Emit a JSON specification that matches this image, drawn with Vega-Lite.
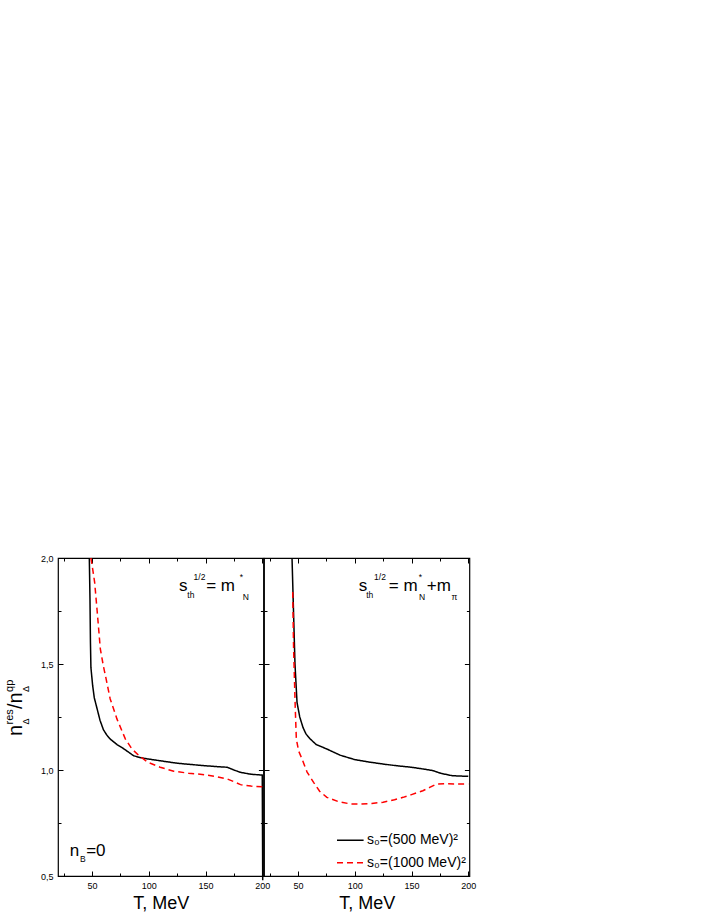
{
  "$schema": "https://vega.github.io/schema/vega-lite/v6.json",
  "padding": {"left": 3, "top": 553, "right": 0, "bottom": 0},
  "bounds": "flush",
  "spacing": 0,
  "config": {
    "view": {"stroke": "#000", "strokeWidth": 1.2},
    "font": "Liberation Sans",
    "axis": {"domain": false, "grid": false, "tickColor": "#000", "tickWidth": 1, "labelFont": "Liberation Sans", "labelFontSize": 9, "labelColor": "#000", "titleFont": "Liberation Sans", "titleFontWeight": "normal", "titleColor": "#000", "labelFlush": false, "labelOverlap": false, "labelBound": false}
  },
  "datasets": {
    "curves": [
      {"panel":"L","series":"s₀=(500 MeV)²","T":47.6,"v":2.0},
      {"panel":"L","series":"s₀=(500 MeV)²","T":48.2,"v":1.8},
      {"panel":"L","series":"s₀=(500 MeV)²","T":48.6,"v":1.6},
      {"panel":"L","series":"s₀=(500 MeV)²","T":49.0,"v":1.484},
      {"panel":"L","series":"s₀=(500 MeV)²","T":50.5,"v":1.40},
      {"panel":"L","series":"s₀=(500 MeV)²","T":52.0,"v":1.34},
      {"panel":"L","series":"s₀=(500 MeV)²","T":54.4,"v":1.29},
      {"panel":"L","series":"s₀=(500 MeV)²","T":57.0,"v":1.235},
      {"panel":"L","series":"s₀=(500 MeV)²","T":60.0,"v":1.19},
      {"panel":"L","series":"s₀=(500 MeV)²","T":63.0,"v":1.165},
      {"panel":"L","series":"s₀=(500 MeV)²","T":66.0,"v":1.146},
      {"panel":"L","series":"s₀=(500 MeV)²","T":72.0,"v":1.12},
      {"panel":"L","series":"s₀=(500 MeV)²","T":78.0,"v":1.10},
      {"panel":"L","series":"s₀=(500 MeV)²","T":86.7,"v":1.067},
      {"panel":"L","series":"s₀=(500 MeV)²","T":93.0,"v":1.058},
      {"panel":"L","series":"s₀=(500 MeV)²","T":99.4,"v":1.052},
      {"panel":"L","series":"s₀=(500 MeV)²","T":112.0,"v":1.042},
      {"panel":"L","series":"s₀=(500 MeV)²","T":125.0,"v":1.032},
      {"panel":"L","series":"s₀=(500 MeV)²","T":137.0,"v":1.026},
      {"panel":"L","series":"s₀=(500 MeV)²","T":150.0,"v":1.02},
      {"panel":"L","series":"s₀=(500 MeV)²","T":160.0,"v":1.016},
      {"panel":"L","series":"s₀=(500 MeV)²","T":169.0,"v":1.013},
      {"panel":"L","series":"s₀=(500 MeV)²","T":175.0,"v":1.0},
      {"panel":"L","series":"s₀=(500 MeV)²","T":180.8,"v":0.989},
      {"panel":"L","series":"s₀=(500 MeV)²","T":190.0,"v":0.98},
      {"panel":"L","series":"s₀=(500 MeV)²","T":200.0,"v":0.976},
      {"panel":"L","series":"s₀=(500 MeV)²","T":200.4,"v":0.48},
      {"panel":"L","series":"s₀=(1000 MeV)²","T":49.0,"v":2.0},
      {"panel":"L","series":"s₀=(1000 MeV)²","T":50.5,"v":1.95},
      {"panel":"L","series":"s₀=(1000 MeV)²","T":52.3,"v":1.885},
      {"panel":"L","series":"s₀=(1000 MeV)²","T":54.5,"v":1.75},
      {"panel":"L","series":"s₀=(1000 MeV)²","T":57.3,"v":1.571},
      {"panel":"L","series":"s₀=(1000 MeV)²","T":60.0,"v":1.49},
      {"panel":"L","series":"s₀=(1000 MeV)²","T":62.0,"v":1.44},
      {"panel":"L","series":"s₀=(1000 MeV)²","T":66.0,"v":1.335},
      {"panel":"L","series":"s₀=(1000 MeV)²","T":72.0,"v":1.24},
      {"panel":"L","series":"s₀=(1000 MeV)²","T":79.4,"v":1.146},
      {"panel":"L","series":"s₀=(1000 MeV)²","T":85.0,"v":1.10},
      {"panel":"L","series":"s₀=(1000 MeV)²","T":92.0,"v":1.065},
      {"panel":"L","series":"s₀=(1000 MeV)²","T":99.4,"v":1.036},
      {"panel":"L","series":"s₀=(1000 MeV)²","T":110.0,"v":1.013},
      {"panel":"L","series":"s₀=(1000 MeV)²","T":122.0,"v":0.994},
      {"panel":"L","series":"s₀=(1000 MeV)²","T":135.0,"v":0.985},
      {"panel":"L","series":"s₀=(1000 MeV)²","T":149.0,"v":0.978},
      {"panel":"L","series":"s₀=(1000 MeV)²","T":160.0,"v":0.968},
      {"panel":"L","series":"s₀=(1000 MeV)²","T":169.0,"v":0.958},
      {"panel":"L","series":"s₀=(1000 MeV)²","T":175.0,"v":0.945},
      {"panel":"L","series":"s₀=(1000 MeV)²","T":180.8,"v":0.931},
      {"panel":"L","series":"s₀=(1000 MeV)²","T":190.0,"v":0.924},
      {"panel":"L","series":"s₀=(1000 MeV)²","T":200.0,"v":0.921},
      {"panel":"R","series":"s₀=(500 MeV)²","T":44.7,"v":2.0},
      {"panel":"R","series":"s₀=(500 MeV)²","T":46.0,"v":1.75},
      {"panel":"R","series":"s₀=(500 MeV)²","T":47.3,"v":1.5},
      {"panel":"R","series":"s₀=(500 MeV)²","T":49.1,"v":1.319},
      {"panel":"R","series":"s₀=(500 MeV)²","T":51.5,"v":1.25},
      {"panel":"R","series":"s₀=(500 MeV)²","T":54.4,"v":1.20},
      {"panel":"R","series":"s₀=(500 MeV)²","T":57.0,"v":1.17},
      {"panel":"R","series":"s₀=(500 MeV)²","T":60.8,"v":1.146},
      {"panel":"R","series":"s₀=(500 MeV)²","T":66.0,"v":1.12},
      {"panel":"R","series":"s₀=(500 MeV)²","T":75.4,"v":1.099},
      {"panel":"R","series":"s₀=(500 MeV)²","T":87.0,"v":1.07},
      {"panel":"R","series":"s₀=(500 MeV)²","T":100.0,"v":1.049},
      {"panel":"R","series":"s₀=(500 MeV)²","T":112.0,"v":1.038},
      {"panel":"R","series":"s₀=(500 MeV)²","T":125.0,"v":1.028},
      {"panel":"R","series":"s₀=(500 MeV)²","T":137.0,"v":1.02},
      {"panel":"R","series":"s₀=(500 MeV)²","T":150.0,"v":1.013},
      {"panel":"R","series":"s₀=(500 MeV)²","T":160.0,"v":1.005},
      {"panel":"R","series":"s₀=(500 MeV)²","T":169.0,"v":0.997},
      {"panel":"R","series":"s₀=(500 MeV)²","T":176.0,"v":0.984},
      {"panel":"R","series":"s₀=(500 MeV)²","T":186.0,"v":0.973},
      {"panel":"R","series":"s₀=(500 MeV)²","T":200.0,"v":0.97},
      {"panel":"R","series":"s₀=(1000 MeV)²","T":45.3,"v":1.84},
      {"panel":"R","series":"s₀=(1000 MeV)²","T":46.1,"v":1.571},
      {"panel":"R","series":"s₀=(1000 MeV)²","T":47.5,"v":1.3},
      {"panel":"R","series":"s₀=(1000 MeV)²","T":48.5,"v":1.146},
      {"panel":"R","series":"s₀=(1000 MeV)²","T":50.5,"v":1.09},
      {"panel":"R","series":"s₀=(1000 MeV)²","T":53.5,"v":1.052},
      {"panel":"R","series":"s₀=(1000 MeV)²","T":58.0,"v":0.99},
      {"panel":"R","series":"s₀=(1000 MeV)²","T":63.7,"v":0.942},
      {"panel":"R","series":"s₀=(1000 MeV)²","T":69.0,"v":0.9},
      {"panel":"R","series":"s₀=(1000 MeV)²","T":75.4,"v":0.871},
      {"panel":"R","series":"s₀=(1000 MeV)²","T":85.0,"v":0.852},
      {"panel":"R","series":"s₀=(1000 MeV)²","T":95.9,"v":0.84},
      {"panel":"R","series":"s₀=(1000 MeV)²","T":104.6,"v":0.839},
      {"panel":"R","series":"s₀=(1000 MeV)²","T":115.0,"v":0.842},
      {"panel":"R","series":"s₀=(1000 MeV)²","T":125.0,"v":0.848},
      {"panel":"R","series":"s₀=(1000 MeV)²","T":135.0,"v":0.86},
      {"panel":"R","series":"s₀=(1000 MeV)²","T":142.6,"v":0.871},
      {"panel":"R","series":"s₀=(1000 MeV)²","T":150.0,"v":0.884},
      {"panel":"R","series":"s₀=(1000 MeV)²","T":160.0,"v":0.902},
      {"panel":"R","series":"s₀=(1000 MeV)²","T":166.0,"v":0.918},
      {"panel":"R","series":"s₀=(1000 MeV)²","T":172.0,"v":0.934},
      {"panel":"R","series":"s₀=(1000 MeV)²","T":180.0,"v":0.935},
      {"panel":"R","series":"s₀=(1000 MeV)²","T":190.0,"v":0.934},
      {"panel":"R","series":"s₀=(1000 MeV)²","T":200.0,"v":0.934}
    ],
    "annMain": [
      {"panel":"L","T":126.6,"v":1.846,"text":"s"},
      {"panel":"L","T":150.6,"v":1.846,"text":"= m"},
      {"panel":"L","T":30.3,"v":0.596,"text":"n"},
      {"panel":"L","T":44.8,"v":0.596,"text":"=0"},
      {"panel":"R","T":103.4,"v":1.846,"text":"s"},
      {"panel":"R","T":130.0,"v":1.846,"text":"= m"},
      {"panel":"R","T":163.5,"v":1.846,"text":"+m"}
    ],
    "annScript": [
      {"panel":"L","T":134.0,"v":1.811,"text":"th"},
      {"panel":"L","T":139.5,"v":1.898,"text":"1/2"},
      {"panel":"L","T":180.2,"v":1.898,"text":"*"},
      {"panel":"L","T":182.8,"v":1.802,"text":"N"},
      {"panel":"L","T":39.4,"v":0.565,"text":"B"},
      {"panel":"R","T":110.1,"v":1.811,"text":"th"},
      {"panel":"R","T":117.0,"v":1.898,"text":"1/2"},
      {"panel":"R","T":156.3,"v":1.898,"text":"*"},
      {"panel":"R","T":156.6,"v":1.802,"text":"N"},
      {"panel":"R","T":185.3,"v":1.802,"text":"π"}
    ],
    "titleMain": [
      {"T":-12.0,"v":1.160,"text":"n"},
      {"T":-12.0,"v":1.288,"text":"/"},
      {"T":-12.0,"v":1.314,"text":"n"}
    ],
    "titleScript": [
      {"T":-19.9,"v":1.215,"text":"res"},
      {"T":-19.9,"v":1.368,"text":"qp"}
    ],
    "titleDelta": [
      {"T":-5.8,"v":1.215,"text":"Δ"},
      {"T":-5.8,"v":1.368,"text":"Δ"}
    ]
  },
  "resolve": {"legend": {"color": "independent", "strokeDash": "independent"}},
  "hconcat": [
    {
      "width": 205.4,
      "height": 318,
      "resolve": {"axis": {"x": "independent", "y": "independent"}},
      "layer": [
        {
          "data": {"name": "curves"},
          "transform": [{"filter": "datum.panel === 'L'"}],
          "mark": {"type": "line", "strokeWidth": 1.5},
          "encoding": {
            "x": {"field": "T", "type": "quantitative", "scale": {"domain": [20, 201], "nice": false, "zero": false},
                  "axis": {"orient": "bottom", "values": [50, 100, 150, 200], "offset": -5, "tickSize": 5, "labelPadding": 5.5, "title": "T, MeV", "titleFontSize": 18, "titlePadding": 4, "format": "d"}},
            "y": {"field": "v", "type": "quantitative", "scale": {"domain": [0.5, 2.0], "nice": false, "zero": false},
                  "axis": {"orient": "left", "values": [0.5, 1.0, 1.5, 2.0], "offset": -5, "tickSize": 5, "labelPadding": 5, "title": null, "labelExpr": "replace(format(datum.value, '.1f'), '.', ',')"}},
            "color": {"field": "series", "type": "nominal", "scale": {"domain": ["s₀=(500 MeV)²", "s₀=(1000 MeV)²"], "range": ["#000000", "#ff0000"]}, "legend": null},
            "strokeDash": {"field": "series", "type": "nominal", "scale": {"domain": ["s₀=(500 MeV)²", "s₀=(1000 MeV)²"], "range": [[1, 0], [6, 4]]}, "legend": null}
          }
        },
        {
          "data": {"name": "annMain"},
          "transform": [{"filter": "datum.panel === 'L'"}],
          "mark": {"type": "text", "fontSize": 17, "font": "Liberation Sans", "align": "left", "baseline": "alphabetic", "color": "#000"},
          "encoding": {
            "x": {"field": "T", "type": "quantitative", "scale": {"domain": [20, 201], "nice": false, "zero": false},
                  "axis": {"orient": "bottom", "values": [25, 75, 125, 175], "offset": -3, "tickSize": 3, "labels": false, "title": null}},
            "y": {"field": "v", "type": "quantitative", "scale": {"domain": [0.5, 2.0], "nice": false, "zero": false},
                  "axis": {"orient": "left", "values": [0.75, 1.25, 1.75], "offset": -3, "tickSize": 3, "labels": false, "title": null}},
            "text": {"field": "text"}
          }
        },
        {
          "data": {"name": "annScript"},
          "transform": [{"filter": "datum.panel === 'L'"}],
          "mark": {"type": "text", "fontSize": 8.5, "font": "Liberation Sans", "align": "left", "baseline": "alphabetic", "color": "#000"},
          "encoding": {
            "x": {"field": "T", "type": "quantitative", "scale": {"domain": [20, 201], "nice": false, "zero": false},
                  "axis": {"orient": "top", "values": [50, 100, 150, 200], "offset": -5, "tickSize": 5, "labels": false, "title": null}},
            "y": {"field": "v", "type": "quantitative", "scale": {"domain": [0.5, 2.0], "nice": false, "zero": false},
                  "axis": {"orient": "right", "values": [0.5, 1.0, 1.5, 2.0], "offset": -5, "tickSize": 5, "labels": false, "title": null}},
            "text": {"field": "text"}
          }
        },
        {
          "data": {"name": "titleMain"},
          "mark": {"type": "text", "fontSize": 20, "font": "Liberation Sans", "align": "left", "baseline": "alphabetic", "angle": 270, "color": "#000"},
          "encoding": {
            "x": {"field": "T", "type": "quantitative", "scale": {"domain": [20, 201], "nice": false, "zero": false},
                  "axis": {"orient": "top", "values": [25, 75, 125, 175], "offset": -3, "tickSize": 3, "labels": false, "title": null}},
            "y": {"field": "v", "type": "quantitative", "scale": {"domain": [0.5, 2.0], "nice": false, "zero": false},
                  "axis": {"orient": "right", "values": [0.75, 1.25, 1.75], "offset": -3, "tickSize": 3, "labels": false, "title": null}},
            "text": {"field": "text"}
          }
        },
        {
          "data": {"name": "titleScript"},
          "mark": {"type": "text", "fontSize": 11, "font": "Liberation Sans", "align": "left", "baseline": "alphabetic", "angle": 270, "color": "#000"},
          "encoding": {
            "x": {"field": "T", "type": "quantitative", "scale": {"domain": [20, 201], "nice": false, "zero": false}, "axis": null},
            "y": {"field": "v", "type": "quantitative", "scale": {"domain": [0.5, 2.0], "nice": false, "zero": false}, "axis": null},
            "text": {"field": "text"}
          }
        },
        {
          "data": {"name": "titleDelta"},
          "mark": {"type": "text", "fontSize": 9, "font": "Liberation Sans", "align": "left", "baseline": "alphabetic", "angle": 270, "color": "#000"},
          "encoding": {
            "x": {"field": "T", "type": "quantitative", "scale": {"domain": [20, 201], "nice": false, "zero": false}, "axis": null},
            "y": {"field": "v", "type": "quantitative", "scale": {"domain": [0.5, 2.0], "nice": false, "zero": false}, "axis": null},
            "text": {"field": "text"}
          }
        }
      ]
    },
    {
      "width": 205.4,
      "height": 318,
      "resolve": {"axis": {"x": "independent", "y": "independent"}},
      "layer": [
        {
          "data": {"name": "curves"},
          "transform": [{"filter": "datum.panel === 'R'"}],
          "mark": {"type": "line", "strokeWidth": 1.5},
          "encoding": {
            "x": {"field": "T", "type": "quantitative", "scale": {"domain": [20, 201], "nice": false, "zero": false},
                  "axis": {"orient": "bottom", "values": [50, 100, 150, 200], "offset": -5, "tickSize": 5, "labelPadding": 5.5, "title": "T, MeV", "titleFontSize": 18, "titlePadding": 4, "format": "d"}},
            "y": {"field": "v", "type": "quantitative", "scale": {"domain": [0.5, 2.0], "nice": false, "zero": false},
                  "axis": {"orient": "left", "values": [0.5, 1.0, 1.5, 2.0], "offset": -5, "tickSize": 5, "labels": false, "title": null}},
            "color": {"field": "series", "type": "nominal", "scale": {"domain": ["s₀=(500 MeV)²", "s₀=(1000 MeV)²"], "range": ["#000000", "#ff0000"]},
                      "legend": {"orient": "none", "legendX": 79.3, "legendY": 275.3, "padding": 0, "title": null, "symbolType": "M-2.66,0H2.66", "symbolSize": 100, "symbolStrokeWidth": 1.5, "labelFont": "Liberation Sans", "labelFontSize": 14, "labelColor": "#000", "labelOffset": 9.7, "rowPadding": 8.4}},
            "strokeDash": {"field": "series", "type": "nominal", "scale": {"domain": ["s₀=(500 MeV)²", "s₀=(1000 MeV)²"], "range": [[1, 0], [6, 4]]},
                      "legend": {"orient": "none", "legendX": 79.3, "legendY": 275.3, "padding": 0, "title": null, "symbolType": "M-2.66,0H2.66", "symbolSize": 100, "symbolStrokeWidth": 1.5, "labelFont": "Liberation Sans", "labelFontSize": 14, "labelColor": "#000", "labelOffset": 9.7, "rowPadding": 8.4}}
          }
        },
        {
          "data": {"name": "annMain"},
          "transform": [{"filter": "datum.panel === 'R'"}],
          "mark": {"type": "text", "fontSize": 17, "font": "Liberation Sans", "align": "left", "baseline": "alphabetic", "color": "#000"},
          "encoding": {
            "x": {"field": "T", "type": "quantitative", "scale": {"domain": [20, 201], "nice": false, "zero": false},
                  "axis": {"orient": "bottom", "values": [25, 75, 125, 175], "offset": -3, "tickSize": 3, "labels": false, "title": null}},
            "y": {"field": "v", "type": "quantitative", "scale": {"domain": [0.5, 2.0], "nice": false, "zero": false},
                  "axis": {"orient": "left", "values": [0.75, 1.25, 1.75], "offset": -3, "tickSize": 3, "labels": false, "title": null}},
            "text": {"field": "text"}
          }
        },
        {
          "data": {"name": "annScript"},
          "transform": [{"filter": "datum.panel === 'R' && datum.v > 1.85"}],
          "mark": {"type": "text", "fontSize": 8.5, "font": "Liberation Sans", "align": "left", "baseline": "alphabetic", "color": "#000"},
          "encoding": {
            "x": {"field": "T", "type": "quantitative", "scale": {"domain": [20, 201], "nice": false, "zero": false},
                  "axis": {"orient": "top", "values": [50, 100, 150, 200], "offset": -5, "tickSize": 5, "labels": false, "title": null}},
            "y": {"field": "v", "type": "quantitative", "scale": {"domain": [0.5, 2.0], "nice": false, "zero": false},
                  "axis": {"orient": "right", "values": [0.5, 1.0, 1.5, 2.0], "offset": -5, "tickSize": 5, "labels": false, "title": null}},
            "text": {"field": "text"}
          }
        },
        {
          "data": {"name": "annScript"},
          "transform": [{"filter": "datum.panel === 'R' && datum.v <= 1.85"}],
          "mark": {"type": "text", "fontSize": 8.5, "font": "Liberation Sans", "align": "left", "baseline": "alphabetic", "color": "#000"},
          "encoding": {
            "x": {"field": "T", "type": "quantitative", "scale": {"domain": [20, 201], "nice": false, "zero": false},
                  "axis": {"orient": "top", "values": [25, 75, 125, 175], "offset": -3, "tickSize": 3, "labels": false, "title": null}},
            "y": {"field": "v", "type": "quantitative", "scale": {"domain": [0.5, 2.0], "nice": false, "zero": false},
                  "axis": {"orient": "right", "values": [0.75, 1.25, 1.75], "offset": -3, "tickSize": 3, "labels": false, "title": null}},
            "text": {"field": "text"}
          }
        }
      ]
    }
  ]
}
